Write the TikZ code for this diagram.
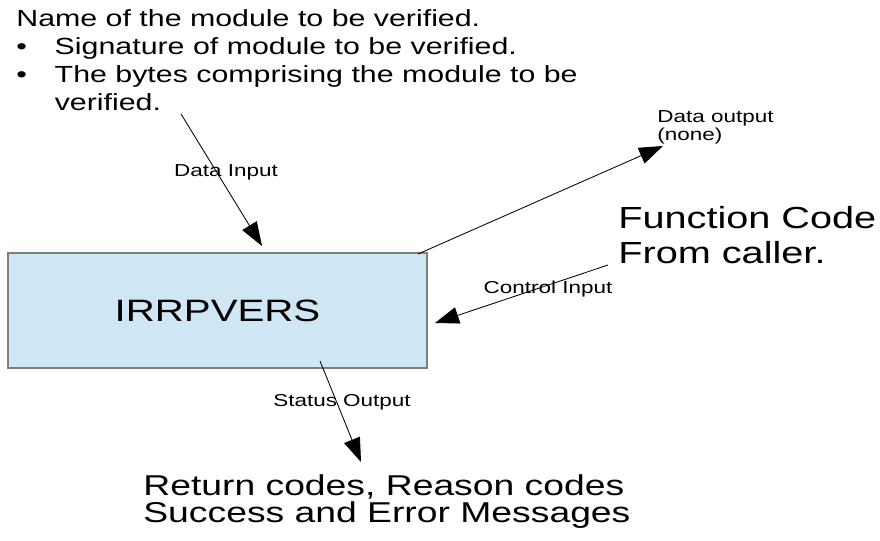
\documentclass[tikz,border=0pt]{standalone}
\usepackage{fontspec}
\setmainfont{Liberation Sans}
\usepackage{graphicx}
\usetikzlibrary{arrows.meta,positioning}
\definecolor{BoxFill}{HTML}{CFE6F4}
\definecolor{BoxLine}{HTML}{7F7F7F}

\begin{document}
\begin{tikzpicture}[
  x=0.025cm, y=-0.025cm,
  >={Triangle[length=17pt,width=12pt]},
  flow/.style={->, line width=0.6pt},
  txt/.style={xscale=1.3, transform shape, inner sep=0pt, align=left, anchor=base west},
  bigtxt/.style={txt, font=\fontsize{21.7}{24.2}\selectfont},
  lbl/.style={xscale=1.3, transform shape, inner sep=0pt, font=\fontsize{12.3}{12}\selectfont},
  modbox/.style={
    draw=BoxLine,
    fill=BoxFill,
    line width=0.8pt,
    minimum width=10.475cm,
    minimum height=2.875cm,
    inner sep=0pt,
    font=\fontsize{22}{24}\selectfont
  }
]
\useasboundingbox (0,0) rectangle (880,540);

% Module
\node[modbox] (irr) at (217.5,310.5) {\scalebox{1.3}[1]{IRRPVERS}};

% Input and output texts (anchored on the last baseline)
\node[txt, font=\fontsize{16.6}{19.7}\selectfont] (modin) at (16,110) {
  Name of the module to be verified.\\
  \makebox[21pt][l]{\textbullet}Signature of module to be verified.\\
  \makebox[21pt][l]{\textbullet}The bytes comprising the module to be\\
  \hspace*{21pt}verified.
};
\node[bigtxt] (func) at (618,263) {Function Code\\From caller.};
\node[bigtxt, font=\fontsize{20.4}{19.2}\selectfont] (codes) at (143,522) {
  Return codes, Reason codes\\
  Success and Error Messages
};
\node[txt, font=\fontsize{12.3}{12.5}\selectfont] (dout) at (657,140) {Data output\\(none)};

% Connector ends
\coordinate (dinA) at (181,114);
\coordinate (dinB) at (262,246);
\coordinate (doutA) at (418,254);
\coordinate (doutB) at (663,146);
\coordinate (cinA) at (608,265);
\coordinate (cinB) at (435,323);
\coordinate (soutA) at (320,361);
\coordinate (soutB) at (361,462);

% Flows
\draw[flow] (dinA) -- (dinB);
\draw[flow] (doutA) -- (doutB);
\draw[flow] (cinA) -- (cinB);
\draw[flow] (soutA) -- (soutB);

% Flow labels
\node[lbl] (dinLbl) at (226,172) {Data Input};
\node[lbl] (cinLbl) at (548,289) {Control Input};
\node[lbl] (soutLbl) at (342,402) {Status Output};
\end{tikzpicture}
\end{document}
